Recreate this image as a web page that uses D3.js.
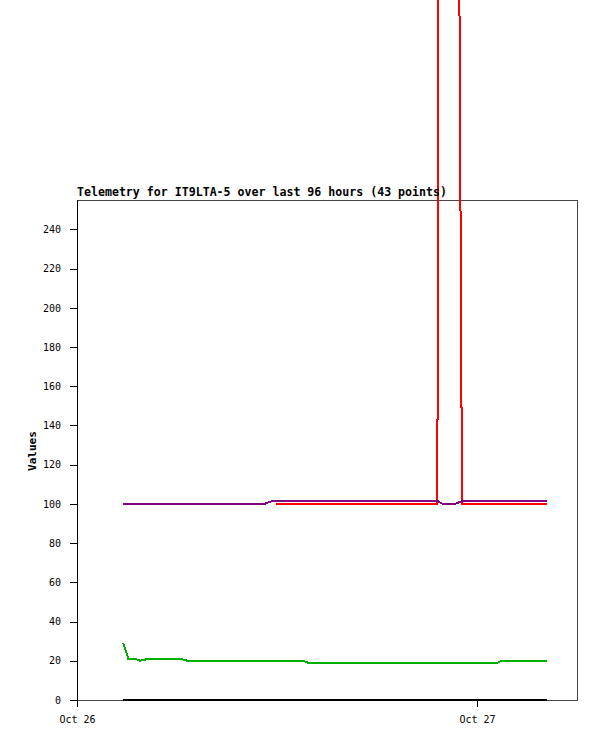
<!DOCTYPE html>
<html>
<head>
<meta charset="utf-8">
<script src="https://cdn.jsdelivr.net/npm/d3@7"></script>
<style>
  html, body { margin: 0; padding: 0; background: #fff; }
  svg { display: block; }
</style>
</head>
<body>
<script>
// Hours since Oct 26 00:00 for each of the 43 telemetry points
const hours = [2.78, 3.08, 3.52, 3.78, 4.04, 4.28, 4.86, 5.52, 6.18, 6.64,
  7.38, 8.10, 8.82, 9.54, 10.26, 11.24, 11.72, 11.94, 12.78, 13.58,
  13.86, 14.70, 15.54, 16.38, 17.22, 18.06, 18.90, 19.74, 20.58, 21.62,
  21.94, 22.32, 22.68, 23.10, 23.58, 24.18, 24.78, 25.22, 25.48, 26.10,
  26.82, 27.54, 28.20];

const blackValues = [0,0,0,0,0,0,0,0,0,0, 0,0,0,0,0,0,0,0,0,0,
  0,0,0,0,0,0,0,0,0,0, 0,0,0,0,0,0,0,0,0,0, 0,0,0];

const greenValues = [29, 21, 21, 20, 20.5, 21, 21, 21, 21, 20,
  20, 20, 20, 20, 20, 20, 20, 20, 20, 20,
  19, 19, 19, 19, 19, 19, 19, 19, 19, 19,
  19, 19, 19, 19, 19, 19, 19, 19, 20, 20,
  20, 20, 20];

const redValues = [null, null, null, null, null, null, null, null, null, null,
  null, null, null, null, null, null, null, 100, 100, 100,
  100, 100, 100, 100, 100, 100, 100, 100, 100, 100,
  1340, 1500, 800, 100, 100, 100, 100, 100, 100, 100,
  100, 100, 100];

const purpleValues = [100, 100, 100, 100, 100, 100, 100, 100, 100, 100,
  100, 100, 100, 100, 100, 100, 101.5, 101.5, 101.5, 101.5,
  101.5, 101.5, 101.5, 101.5, 101.5, 101.5, 101.5, 101.5, 101.5, 101.5,
  100, 100, 100, 101.5, 101.5, 101.5, 101.5, 101.5, 101.5, 101.5,
  101.5, 101.5, 101.5];

const yTicks = [0, 20, 40, 60, 80, 100, 120, 140, 160, 180, 200, 220, 240];
const xTickHours = [0, 24];
const xTickLabels = ["Oct 26", "Oct 27"];
const yDomain = [0, 255];
const xDomainHours = [0, 30];

const titleText = "Telemetry for IT9LTA-5 over last 96 hours (43 points)";
const yLabel = "Values";

const W = 597, H = 741;
const M = { left: 77, top: 200, right: 577, bottom: 700 };

const svg = d3.select("body").append("svg")
  .attr("width", W).attr("height", H);

const x = d3.scaleLinear().domain(xDomainHours).range([M.left, M.right]);
const y = d3.scaleLinear().domain(yDomain).range([M.bottom, M.top]);

const mono = "'DejaVu Sans Mono', 'Liberation Mono', monospace";

// frame
svg.append("rect")
  .attr("x", M.left + 0.5).attr("y", M.top + 0.5)
  .attr("width", M.right - M.left - 0.5).attr("height", M.bottom - M.top)
  .attr("fill", "none").attr("stroke", "#444").attr("stroke-width", 1)
  .attr("shape-rendering", "crispEdges");

// y axis
const yAxis = d3.axisLeft(y).tickValues(yTicks).tickSize(7).tickPadding(9).tickFormat(d3.format("d"));
const gy = svg.append("g").attr("transform", `translate(${M.left},0)`).call(yAxis);
gy.select(".domain").attr("stroke", "#000").attr("shape-rendering", "crispEdges")
  .attr("d", `M0.5,${M.top}V${M.bottom + 7}`);
gy.selectAll(".tick line").attr("stroke", "#000").attr("shape-rendering", "crispEdges");
gy.selectAll(".tick text").attr("font-family", mono).attr("font-size", "10px").attr("fill", "#000");

// x axis
const xAxis = d3.axisBottom(x).tickValues(xTickHours).tickSize(7).tickPadding(9)
  .tickFormat((d, i) => xTickLabels[i]);
const gx = svg.append("g").attr("transform", `translate(0,${M.bottom})`).call(xAxis);
gx.select(".domain").remove();
gx.selectAll(".tick line").attr("stroke", "#000").attr("shape-rendering", "crispEdges");
gx.selectAll(".tick text").attr("font-family", mono).attr("font-size", "10px").attr("fill", "#000");

// series
const series = [
  { values: blackValues, color: "#000000" },
  { values: greenValues, color: "#00b000" },
  { values: redValues, color: "#ff0000" },
  { values: purpleValues, color: "#800080" }
];

const line = d3.line()
  .defined(d => d.v !== null)
  .x(d => x(d.h))
  .y(d => y(d.v));

series.forEach(s => {
  const pts = hours.map((h, i) => ({ h: h, v: s.values[i] }));
  svg.append("path")
    .datum(pts)
    .attr("d", line)
    .attr("fill", "none")
    .attr("stroke", s.color)
    .attr("stroke-width", 2)
    .attr("stroke-linejoin", "miter")
    .attr("shape-rendering", "crispEdges");
});

// title
svg.append("text")
  .attr("x", M.left).attr("y", 196)
  .attr("font-family", mono).attr("font-weight", "bold").attr("font-size", "11.4px")
  .attr("textLength", 370).attr("lengthAdjust", "spacingAndGlyphs")
  .text(titleText);

// y label
svg.append("text")
  .attr("transform", "translate(36,451) rotate(-90)")
  .attr("text-anchor", "middle")
  .attr("font-family", mono).attr("font-weight", "bold").attr("font-size", "11px")
  .text(yLabel);
</script>
</body>
</html>
